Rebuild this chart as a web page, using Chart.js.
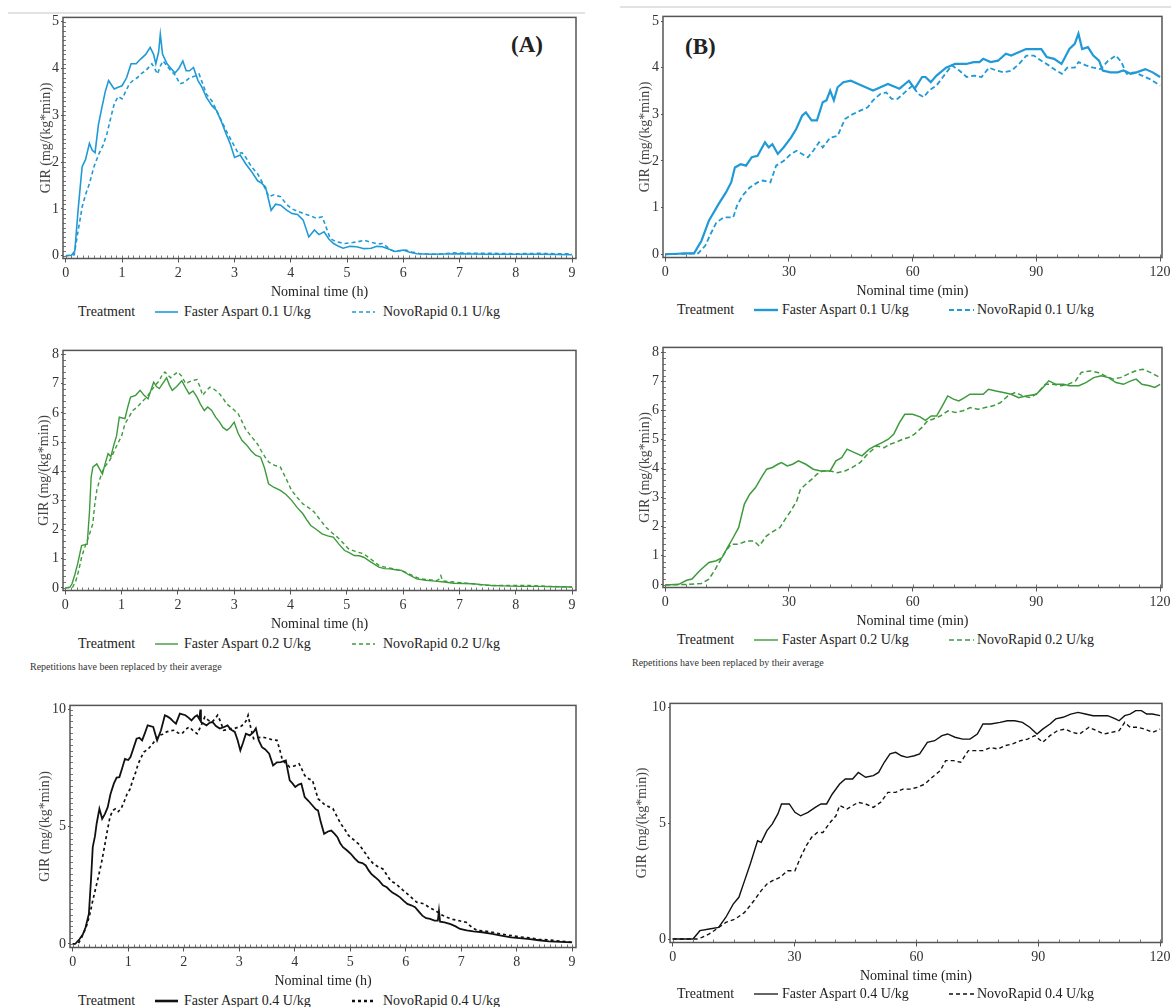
<!DOCTYPE html>
<html lang="en">
<head>
<meta charset="UTF-8">
<title>GIR profiles - Faster Aspart vs NovoRapid</title>
<script src="https://cdn.jsdelivr.net/npm/chart.js"></script>
<style>
  body { margin: 0; background: #fff; }
  #page { position: relative; width: 1171px; height: 1007px; overflow: hidden;
          font-family: "Liberation Serif", "Times New Roman", serif; color: #222; }
  canvas { position: absolute; }
  .txt { position: absolute; white-space: nowrap; font-size: 14px; height: 20px; line-height: 20px; }
  .rule { position: absolute; height: 2px; background: #e2e2e2; }
  .tag { position: absolute; font-weight: bold; font-size: 23px; line-height: 28px; height: 28px; }
  .note { position: absolute; font-size: 10px; line-height: 12px; white-space: nowrap; color: #333; }
  svg { position: absolute; overflow: visible; }
</style>
</head>
<body>
<div id="page">
  <div class="rule" style="left:8px;top:12px;width:577px"></div>
  <div class="rule" style="left:620px;top:6px;width:551px"></div>
  <div class="tag" style="left:511px;top:31px">(A)</div>
  <div class="tag" style="left:685px;top:33px">(B)</div>
  <div class="note" style="left:30px;top:661px">Repetitions have been replaced by their average</div>
  <div class="note" style="left:632px;top:657px">Repetitions have been replaced by their average</div>
</div>

<script>
// tick labels
const hourTicks = [0, 1, 2, 3, 4, 5, 6, 7, 8, 9];
const minTicks = [0, 30, 60, 90, 120];
const gir5Ticks = [0, 1, 2, 3, 4, 5];
const gir8Ticks = [0, 1, 2, 3, 4, 5, 6, 7, 8];
const gir10Ticks = [0, 5, 10];

// series: [nominal time, GIR]
// (A) 0.1 U/kg, hours
const a1Faster = [[0,0],[0.1,0.01],[0.16,0.1],[0.22,1.0],[0.29,1.9],[0.35,2.05],[0.42,2.4],[0.47,2.25],[0.52,2.2],[0.58,2.8],[0.63,3.1],[0.7,3.5],[0.76,3.74],[0.81,3.65],[0.86,3.56],[0.93,3.6],[1.0,3.63],[1.08,3.8],[1.16,4.1],[1.25,4.1],[1.33,4.2],[1.42,4.3],[1.5,4.45],[1.56,4.3],[1.6,4.1],[1.65,4.35],[1.68,4.73],[1.72,4.3],[1.8,4.1],[1.87,4.0],[1.94,3.9],[2.01,4.0],[2.08,4.16],[2.14,3.95],[2.2,3.95],[2.27,4.02],[2.35,3.74],[2.42,3.6],[2.5,3.38],[2.6,3.2],[2.68,3.1],[2.77,2.85],[2.85,2.6],[2.92,2.4],[3.0,2.1],[3.1,2.15],[3.2,1.96],[3.3,1.8],[3.41,1.6],[3.48,1.55],[3.55,1.47],[3.65,0.97],[3.73,1.1],[3.82,1.08],[3.92,0.98],[4.02,0.9],[4.12,0.88],[4.22,0.76],[4.32,0.4],[4.42,0.55],[4.5,0.45],[4.59,0.51],[4.68,0.35],[4.76,0.26],[4.85,0.2],[4.93,0.16],[5.05,0.2],[5.17,0.19],[5.3,0.15],[5.43,0.16],[5.53,0.2],[5.63,0.19],[5.75,0.14],[5.84,0.09],[5.92,0.1],[6.0,0.12],[6.1,0.08],[6.24,0.04],[6.5,0.03],[7.0,0.04],[7.5,0.03],[8.0,0.03],[8.5,0.03],[9.0,0.02]];
const a1Novo = [[0,0],[0.15,0.02],[0.2,0.4],[0.25,0.75],[0.29,1.04],[0.35,1.3],[0.42,1.54],[0.5,1.9],[0.59,2.18],[0.66,2.35],[0.73,2.6],[0.8,2.95],[0.86,3.24],[0.93,3.4],[1.0,3.35],[1.06,3.5],[1.13,3.67],[1.2,3.75],[1.27,3.8],[1.33,3.88],[1.42,3.95],[1.53,4.1],[1.58,4.0],[1.63,3.88],[1.68,4.05],[1.73,4.16],[1.8,4.05],[1.87,3.95],[1.95,3.85],[2.03,3.67],[2.1,3.7],[2.2,3.8],[2.3,3.84],[2.37,3.88],[2.44,3.65],[2.5,3.45],[2.6,3.3],[2.68,3.1],[2.78,2.85],[2.88,2.6],[2.97,2.4],[3.07,2.18],[3.13,2.2],[3.2,2.1],[3.3,1.9],[3.41,1.75],[3.5,1.55],[3.61,1.26],[3.7,1.3],[3.82,1.26],[3.92,1.1],[4.02,1.0],[4.12,0.95],[4.22,0.9],[4.35,0.85],[4.45,0.8],[4.56,0.83],[4.63,0.6],[4.7,0.37],[4.8,0.3],[4.96,0.26],[5.1,0.28],[5.2,0.3],[5.3,0.33],[5.45,0.28],[5.55,0.25],[5.63,0.26],[5.7,0.2],[5.78,0.12],[5.84,0.1],[5.95,0.11],[6.04,0.12],[6.15,0.08],[6.3,0.04],[6.6,0.03],[6.9,0.06],[7.2,0.05],[7.6,0.05],[8.0,0.04],[8.4,0.05],[8.8,0.04],[9.0,0.04]];

// (A) 0.2 U/kg
const a2Faster = [[0,0],[0.08,0.02],[0.12,0.14],[0.17,0.45],[0.22,0.82],[0.29,1.45],[0.35,1.48],[0.39,1.5],[0.43,2.6],[0.46,3.8],[0.49,4.14],[0.56,4.25],[0.63,4.0],[0.66,3.9],[0.7,4.2],[0.76,4.6],[0.81,4.5],[0.86,4.88],[0.91,5.2],[0.96,5.85],[1.06,5.8],[1.11,6.2],[1.16,6.54],[1.25,6.6],[1.33,6.77],[1.4,6.6],[1.47,6.48],[1.57,7.05],[1.62,6.9],[1.67,6.83],[1.73,7.0],[1.8,7.2],[1.85,6.95],[1.9,6.77],[1.98,6.9],[2.07,7.1],[2.14,6.85],[2.2,6.65],[2.27,6.75],[2.34,6.54],[2.4,6.3],[2.47,6.08],[2.53,6.2],[2.6,6.08],[2.67,5.85],[2.74,5.68],[2.8,5.5],[2.87,5.4],[2.93,5.5],[3.0,5.68],[3.07,5.3],[3.14,5.05],[3.22,4.9],[3.3,4.7],[3.38,4.55],[3.47,4.48],[3.54,4.1],[3.61,3.57],[3.7,3.45],[3.82,3.34],[3.92,3.2],[4.02,3.0],[4.12,2.75],[4.22,2.54],[4.3,2.3],[4.36,2.14],[4.46,2.0],[4.56,1.85],[4.66,1.78],[4.76,1.74],[4.86,1.5],[4.96,1.28],[5.05,1.2],[5.13,1.11],[5.22,1.1],[5.3,1.05],[5.43,0.88],[5.57,0.71],[5.67,0.66],[5.77,0.65],[5.87,0.62],[5.97,0.6],[6.1,0.45],[6.24,0.31],[6.4,0.26],[6.57,0.23],[6.73,0.2],[6.9,0.16],[7.07,0.15],[7.24,0.14],[7.4,0.11],[7.57,0.08],[7.8,0.07],[8.1,0.05],[8.4,0.05],[8.7,0.04],[9.0,0.03]];
const a2Novo = [[0,0],[0.13,0.02],[0.19,0.25],[0.24,0.6],[0.29,1.05],[0.34,1.35],[0.39,1.62],[0.44,1.9],[0.49,2.2],[0.52,2.8],[0.56,3.34],[0.61,3.7],[0.66,4.0],[0.72,4.2],[0.79,4.37],[0.86,4.65],[0.93,4.94],[1.0,5.2],[1.06,5.62],[1.13,5.85],[1.2,6.08],[1.28,6.2],[1.36,6.37],[1.45,6.55],[1.53,6.77],[1.6,6.95],[1.67,7.1],[1.72,7.3],[1.77,7.4],[1.82,7.3],[1.87,7.2],[1.93,7.3],[2.0,7.4],[2.07,7.25],[2.14,7.0],[2.19,7.05],[2.24,7.1],[2.34,7.14],[2.39,6.9],[2.44,6.6],[2.5,6.75],[2.57,6.88],[2.65,6.8],[2.74,6.65],[2.8,6.5],[2.87,6.3],[2.97,6.15],[3.07,5.97],[3.14,5.7],[3.2,5.45],[3.3,5.2],[3.41,4.94],[3.48,4.7],[3.55,4.48],[3.62,4.3],[3.72,4.2],[3.82,4.14],[3.92,3.75],[4.02,3.34],[4.12,3.1],[4.22,2.88],[4.32,2.75],[4.42,2.6],[4.52,2.35],[4.63,2.08],[4.73,1.9],[4.83,1.74],[4.93,1.55],[5.03,1.34],[5.15,1.25],[5.3,1.17],[5.43,0.98],[5.57,0.77],[5.7,0.7],[5.84,0.65],[5.94,0.6],[6.04,0.54],[6.17,0.42],[6.3,0.31],[6.45,0.28],[6.6,0.25],[6.64,0.3],[6.67,0.42],[6.7,0.24],[6.8,0.22],[6.9,0.2],[7.07,0.17],[7.24,0.14],[7.4,0.1],[7.57,0.08],[7.9,0.08],[8.25,0.08],[8.6,0.05],[9.0,0.03]];

// (A) 0.4 U/kg
const a3Faster = [[0,0],[0.05,0.02],[0.12,0.2],[0.18,0.4],[0.23,0.7],[0.29,1.28],[0.33,2.8],[0.36,4.13],[0.4,4.6],[0.43,5.13],[0.48,5.77],[0.53,5.34],[0.58,5.55],[0.63,5.84],[0.68,6.4],[0.74,6.84],[0.79,7.1],[0.84,7.12],[0.89,7.5],[0.94,7.9],[1.0,7.85],[1.04,7.98],[1.1,8.4],[1.15,8.76],[1.2,8.8],[1.25,8.69],[1.3,9.0],[1.35,9.33],[1.45,9.26],[1.52,8.69],[1.59,9.12],[1.66,9.76],[1.71,9.7],[1.76,9.62],[1.81,9.5],[1.86,9.4],[1.93,9.83],[2.03,9.76],[2.09,9.65],[2.14,9.54],[2.2,9.7],[2.24,9.76],[2.28,9.6],[2.3,10.0],[2.31,9.47],[2.36,9.4],[2.41,9.33],[2.47,9.45],[2.52,9.47],[2.58,9.3],[2.65,9.19],[2.72,9.25],[2.79,9.33],[2.85,9.15],[2.92,9.05],[2.97,8.7],[3.02,8.26],[3.07,8.6],[3.12,8.97],[3.19,8.9],[3.26,9.05],[3.3,9.2],[3.35,8.7],[3.41,8.4],[3.47,8.3],[3.54,8.12],[3.61,7.62],[3.68,7.75],[3.75,7.76],[3.84,7.83],[3.91,6.98],[3.96,6.85],[4.01,6.7],[4.07,6.8],[4.12,6.84],[4.18,6.27],[4.25,6.1],[4.32,5.91],[4.38,5.75],[4.42,5.7],[4.47,5.2],[4.53,4.7],[4.6,4.8],[4.66,4.84],[4.72,4.7],[4.77,4.56],[4.82,4.3],[4.87,4.13],[4.94,4.0],[5.01,3.85],[5.08,3.65],[5.15,3.49],[5.22,3.45],[5.28,3.35],[5.33,3.15],[5.38,2.99],[5.45,2.85],[5.52,2.7],[5.59,2.5],[5.66,2.42],[5.71,2.3],[5.76,2.2],[5.83,2.1],[5.9,1.99],[5.96,1.85],[6.03,1.71],[6.1,1.65],[6.17,1.57],[6.23,1.4],[6.3,1.21],[6.37,1.1],[6.44,1.07],[6.52,1.0],[6.58,1.0],[6.6,1.42],[6.62,0.95],[6.7,0.92],[6.81,0.85],[6.9,0.75],[6.98,0.64],[7.1,0.58],[7.22,0.54],[7.38,0.5],[7.56,0.43],[7.72,0.36],[7.9,0.28],[8.05,0.25],[8.24,0.21],[8.4,0.16],[8.58,0.11],[8.8,0.09],[9.0,0.07]];
const a3Novo = [[0,0],[0.1,0.02],[0.16,0.28],[0.21,0.55],[0.26,0.85],[0.31,1.3],[0.36,1.85],[0.41,2.35],[0.46,2.85],[0.52,3.5],[0.57,4.13],[0.62,4.8],[0.67,5.41],[0.72,5.7],[0.77,5.77],[0.82,5.65],[0.87,5.77],[0.93,6.1],[0.98,6.41],[1.03,6.6],[1.08,6.98],[1.13,7.3],[1.18,7.69],[1.23,7.95],[1.28,8.19],[1.35,8.3],[1.42,8.48],[1.49,8.7],[1.56,8.9],[1.62,8.95],[1.69,9.05],[1.76,9.1],[1.83,9.12],[1.9,9.0],[1.97,8.97],[2.03,9.15],[2.1,9.26],[2.17,9.1],[2.24,8.97],[2.31,9.3],[2.38,9.69],[2.44,9.55],[2.51,9.47],[2.56,9.6],[2.61,9.76],[2.66,9.5],[2.72,9.12],[2.79,9.15],[2.85,9.19],[2.92,9.2],[2.99,9.26],[3.04,9.3],[3.09,9.4],[3.13,9.55],[3.16,9.76],[3.21,9.2],[3.26,8.76],[3.33,8.8],[3.41,8.83],[3.47,8.8],[3.54,8.76],[3.61,8.7],[3.68,8.69],[3.73,8.3],[3.78,7.83],[3.84,7.7],[3.91,7.55],[4.0,7.6],[4.08,7.69],[4.13,7.45],[4.18,7.19],[4.25,7.05],[4.32,6.98],[4.37,6.6],[4.42,6.2],[4.49,6.05],[4.56,5.91],[4.62,5.85],[4.69,5.77],[4.76,5.45],[4.83,5.13],[4.9,4.9],[4.97,4.63],[5.06,4.45],[5.15,4.27],[5.22,4.05],[5.28,3.85],[5.35,3.6],[5.42,3.42],[5.5,3.3],[5.59,3.2],[5.66,2.95],[5.73,2.7],[5.8,2.6],[5.86,2.49],[5.95,2.3],[6.03,2.14],[6.12,1.95],[6.2,1.78],[6.27,1.75],[6.33,1.71],[6.43,1.55],[6.54,1.42],[6.64,1.25],[6.74,1.14],[6.85,1.05],[6.95,1.0],[7.03,0.95],[7.09,0.93],[7.2,0.7],[7.3,0.57],[7.43,0.55],[7.56,0.5],[7.73,0.42],[7.9,0.36],[8.07,0.3],[8.24,0.26],[8.4,0.2],[8.58,0.17],[8.8,0.12],[9.0,0.07]];

// (B) 0.1 U/kg, minutes
const b1Faster = [[0,0],[3,0.01],[5,0.02],[7,0.02],[8.8,0.29],[10.6,0.72],[12.9,1.07],[14.7,1.32],[16,1.54],[16.9,1.86],[18.3,1.93],[19.6,1.9],[21,2.08],[22.4,2.11],[24.2,2.4],[25.1,2.29],[26,2.36],[27.3,2.15],[28.7,2.29],[30.5,2.5],[31.8,2.69],[33.2,2.97],[34.1,3.04],[35.5,2.87],[36.8,2.87],[38.2,3.26],[39.1,3.3],[40,3.51],[40.9,3.3],[41.8,3.58],[43.2,3.69],[45,3.72],[46.8,3.65],[48.6,3.58],[50.4,3.51],[52.2,3.58],[54,3.65],[56.8,3.55],[59.1,3.72],[60.5,3.55],[62.3,3.8],[63.1,3.8],[64.4,3.69],[65.8,3.83],[68.1,4.0],[70.3,4.08],[73,4.08],[74.8,4.12],[76.2,4.12],[77.1,4.19],[78.9,4.12],[80.7,4.15],[82.6,4.3],[83.9,4.26],[85.7,4.33],[87.5,4.4],[89.4,4.4],[91.2,4.4],[92.5,4.23],[94.3,4.19],[96.1,4.08],[98,4.4],[99.3,4.51],[100.2,4.73],[101.1,4.4],[102.5,4.44],[103.8,4.26],[105.2,4.15],[106.1,3.94],[107.9,3.9],[109.7,3.9],[111.1,3.94],[112.9,3.87],[114.3,3.9],[116.4,3.97],[118.2,3.9],[120,3.8]];
const b1Novo = [[0,0],[4,0.01],[8,0.02],[9.7,0.18],[11,0.43],[12.4,0.68],[14.2,0.79],[16.5,0.79],[17.4,1.04],[18.7,1.25],[20.5,1.43],[22.4,1.54],[23.7,1.58],[25.5,1.54],[26.9,1.9],[28.7,2.0],[30.5,2.15],[31.9,2.22],[33.2,2.15],[34.6,2.08],[35.9,2.22],[37.3,2.4],[38.2,2.29],[40,2.5],[41.8,2.54],[43.6,2.9],[45.4,3.0],[47.3,3.08],[49.1,3.15],[50.4,3.3],[52.2,3.44],[53.6,3.47],[54.9,3.33],[56.3,3.33],[58.1,3.47],[60,3.62],[61.3,3.44],[62.7,3.37],[64,3.51],[65.8,3.62],[67.6,3.83],[69.5,4.05],[71.3,3.94],[73.1,3.8],[74.9,3.83],[76.7,3.8],[78.5,4.0],[80.3,3.94],[82.2,3.9],[84,3.94],[85.8,4.08],[87.6,4.26],[89.4,4.26],[91.2,4.15],[93,4.05],[94.8,3.94],[96.2,3.87],[97.5,4.0],[99.3,4.0],[100.2,4.12],[102,4.05],[103.8,4.0],[105.6,3.97],[107.4,4.15],[109.3,4.26],[110.6,4.12],[111.9,3.87],[113.8,3.9],[115.6,3.83],[117.4,3.76],[120,3.62]];

// (B) 0.2 U/kg
const b2Faster = [[0,0],[3.3,0.02],[5.2,0.16],[6.5,0.2],[8.3,0.48],[10.6,0.77],[12.4,0.83],[13.8,0.94],[15.1,1.28],[16.5,1.63],[17.8,1.97],[19.2,2.78],[20.5,3.12],[21.9,3.35],[23.3,3.69],[24.6,3.98],[26,4.04],[27.3,4.15],[28.2,4.21],[29.6,4.09],[30.9,4.15],[32.3,4.27],[34.1,4.15],[35.9,3.98],[37.7,3.92],[40,3.92],[41.4,4.27],[42.8,4.38],[44.1,4.67],[45.9,4.55],[47.7,4.44],[49.5,4.67],[50.9,4.78],[52.7,4.9],[54.1,5.01],[55.4,5.18],[56.8,5.58],[58.1,5.87],[60,5.87],[61.8,5.78],[63.1,5.66],[64.5,5.81],[65.8,5.81],[67.2,6.16],[68.5,6.5],[69.9,6.39],[71.2,6.33],[72.6,6.44],[73.9,6.56],[75.7,6.56],[77.1,6.56],[78.4,6.73],[80.2,6.67],[82,6.62],[83.9,6.56],[85.7,6.44],[87.5,6.5],[90,6.56],[91.6,6.79],[93,7.02],[94.8,6.9],[96.6,6.9],[98,6.85],[100.3,6.85],[102,6.96],[103.9,7.13],[105.7,7.19],[107.5,7.13],[109.3,6.96],[111.1,6.9],[112.9,7.02],[114.2,7.08],[115.6,6.9],[117.4,6.85],[118.7,6.79],[120,6.9]];
const b2Novo = [[0,0],[4,0.01],[6,0.02],[8.8,0.05],[10.6,0.2],[11.9,0.48],[13.3,0.83],[14.7,1.17],[16,1.4],[17.8,1.4],[19.7,1.51],[21.5,1.51],[22.8,1.34],[24.6,1.69],[26.4,1.86],[27.8,1.97],[29.1,2.26],[30.5,2.55],[31.9,2.89],[32.8,3.29],[34.1,3.46],[35.5,3.63],[36.8,3.81],[38.2,3.92],[40,3.92],[41.8,3.86],[43.6,3.92],[45.4,4.04],[47.3,4.21],[49.1,4.5],[51.3,4.78],[53.1,4.72],[54.5,4.84],[55.8,4.9],[57.6,5.01],[59,5.07],[60.4,5.18],[62.2,5.41],[63.6,5.64],[64.9,5.7],[66.7,5.81],[68.6,5.99],[70.4,5.93],[72.2,5.99],[74,6.1],[75.8,6.04],[77.6,6.1],[79.5,6.16],[81.3,6.27],[83.1,6.5],[84.9,6.62],[86.7,6.5],[88.6,6.44],[90.4,6.62],[92.2,6.9],[94,6.9],[95.9,6.85],[97.7,6.9],[99.5,7.02],[100.9,7.31],[103.1,7.36],[104.9,7.31],[106.7,7.19],[108.6,7.08],[110.4,7.13],[112.2,7.25],[114,7.36],[115.8,7.42],[117.6,7.31],[120,7.13]];

// (B) 0.4 U/kg
const b3Faster = [[0,0],[5,0],[6.7,0.36],[9,0.43],[11.3,0.5],[13.1,0.94],[14.9,1.51],[16.3,1.8],[17.7,2.52],[19.1,3.24],[20.9,4.24],[21.8,4.17],[23.2,4.68],[24.5,4.96],[25.9,5.4],[26.8,5.83],[28.7,5.83],[30.1,5.47],[31.5,5.32],[33.3,5.47],[35.1,5.68],[36.5,5.83],[37.9,5.83],[39.3,6.26],[41.1,6.69],[42.5,6.91],[44.3,6.91],[45.7,7.19],[47.5,6.98],[49.4,7.05],[50.7,7.19],[52.1,7.63],[53.5,7.99],[54.9,8.06],[56.3,7.91],[57.7,7.84],[59.5,7.91],[60.8,7.99],[62.7,8.49],[64.5,8.56],[66.3,8.78],[67.7,8.85],[69.5,8.71],[71.4,8.63],[73.2,8.63],[75,8.85],[76.4,9.28],[78.3,9.28],[80.6,9.35],[82.4,9.42],[84.2,9.42],[86.1,9.35],[87.9,9.14],[89.7,8.85],[91.1,9.06],[92.9,9.28],[94.3,9.5],[96.1,9.57],[98,9.71],[99.8,9.78],[101.6,9.71],[103.5,9.64],[105.3,9.64],[107.1,9.64],[109,9.5],[109.9,9.42],[111.3,9.64],[112.6,9.71],[114,9.86],[115.4,9.86],[116.7,9.71],[118.1,9.71],[120,9.64]];
const b3Novo = [[0,0],[6,0],[7.2,0.07],[9,0.22],[10.8,0.43],[13.1,0.72],[15.4,0.86],[17.7,1.15],[20,1.65],[21.8,2.09],[23.2,2.37],[24.6,2.52],[26.4,2.66],[28.3,2.95],[30.1,2.95],[31.5,3.53],[32.9,4.03],[34.2,4.39],[35.6,4.6],[37,4.6],[38.8,5.04],[40.2,5.32],[41.1,5.76],[42.9,5.61],[44.3,5.76],[45.7,5.9],[47.5,5.83],[49.4,5.68],[51.2,5.9],[53,6.33],[54.9,6.33],[56.7,6.47],[58.5,6.47],[60.3,6.55],[62.1,6.69],[63.9,6.98],[65.9,7.27],[67.2,7.7],[69.1,7.7],[70.9,7.63],[72.8,8.13],[74.6,8.13],[76.4,8.13],[78.3,8.27],[80.1,8.2],[81.9,8.35],[83.7,8.42],[85.6,8.56],[87.4,8.63],[89.2,8.78],[91.1,8.49],[92.9,8.78],[94.7,8.99],[96.6,9.06],[98.4,8.92],[100.2,8.85],[102.5,9.14],[104.4,8.99],[106.2,8.85],[108,8.92],[109.9,8.99],[111.3,9.35],[112.6,9.14],[114.5,9.14],[116.3,9.06],[118.2,8.92],[120,9.06]];

const BLUE = '#1f9ad6';
const GREEN = '#3d9a3d';
const BLACK = '#111';
const Y_TITLE = 'GIR (mg/(kg*min))';

Chart.defaults.font.family = '"Liberation Serif", "Times New Roman", serif';
Chart.defaults.font.size = 14;
Chart.defaults.color = '#333';

// legend positions (page px)
const legA = { treat: 78, line1: [155, 178], lab1: 184, line2: [352, 375], lab2: 383 };
const legB = { treat: 677, line1: [754, 778], lab1: 782, line2: [949, 974], lab2: 977 };

const PAD_TOP = 10, PAD_RIGHT = 14, X_H = 42.5;

const panels = [
  { area: [63, 17, 576, 258], yW: 25, xr: [-0.05, 9.07], yr: [-0.06, 5.09], xTicks: hourTicks, yTicks: gir5Ticks,
    xTitle: 'Nominal time (h)', xMinor: 0.1, yMinor: 0.1, color: BLUE, lw: [1.6, 1.6], dash: [4, 3],
    series: [a1Faster, a1Novo], labels: ['Faster Aspart 0.1 U/kg', 'NovoRapid 0.1 U/kg'],
    leg: legA, legY: 311.5, legLw: [1.6, 1.6] },
  { area: [663, 16, 1162, 257], yW: 26, xr: [-0.53, 120.46], yr: [-0.07, 5.1], xTicks: minTicks, yTicks: gir5Ticks,
    xTitle: 'Nominal time (min)', xMinor: 5, yMinor: 0, color: BLUE, lw: [2.2, 1.8], dash: [5, 3],
    series: [b1Faster, b1Novo], labels: ['Faster Aspart 0.1 U/kg', 'NovoRapid 0.1 U/kg'],
    leg: legB, legY: 309.5, legLw: [2.4, 2.0] },
  { area: [63, 350, 576, 590], yW: 27, xr: [-0.04, 9.07], yr: [-0.09, 8.14], xTicks: hourTicks, yTicks: gir8Ticks,
    xTitle: 'Nominal time (h)', xMinor: 0.1, yMinor: 0.2, color: GREEN, lw: [1.4, 1.4], dash: [4, 3],
    series: [a2Faster, a2Novo], labels: ['Faster Aspart 0.2 U/kg', 'NovoRapid 0.2 U/kg'],
    leg: legA, legY: 643.5, legLw: [1.4, 1.4] },
  { area: [663, 347, 1162, 587], yW: 26, xr: [-0.53, 120.46], yr: [-0.09, 8.17], xTicks: minTicks, yTicks: gir8Ticks,
    xTitle: 'Nominal time (min)', xMinor: 5, yMinor: 0.2, color: GREEN, lw: [1.5, 1.5], dash: [5, 3],
    series: [b2Faster, b2Novo], labels: ['Faster Aspart 0.2 U/kg', 'NovoRapid 0.2 U/kg'],
    leg: legB, legY: 640, legLw: [1.4, 1.4] },
  { area: [70, 705, 576, 947], yW: 33, xr: [-0.05, 9.07], yr: [-0.15, 10.18], xTicks: hourTicks, yTicks: gir10Ticks,
    xTitle: 'Nominal time (h)', xMinor: 0.1, yMinor: 0.25, color: BLACK, lw: [1.8, 1.7], dash: [3, 3],
    series: [a3Faster, a3Novo], labels: ['Faster Aspart 0.4 U/kg', 'NovoRapid 0.4 U/kg'],
    leg: legA, legY: 1000.5, legLw: [2.6, 2.4] },
  { area: [670, 703, 1162, 942], yW: 36, xr: [-0.66, 120.47], yr: [-0.15, 10.17], xTicks: minTicks, yTicks: gir10Ticks,
    xTitle: 'Nominal time (min)', xMinor: 5, yMinor: 0, color: BLACK, lw: [1.4, 1.4], dash: [4, 3],
    series: [b3Faster, b3Novo], labels: ['Faster Aspart 0.4 U/kg', 'NovoRapid 0.4 U/kg'],
    leg: legB, legY: 993.5, legLw: [1.3, 1.3] }
];

// box frame + small minor tick marks along the axes
const framePlugin = {
  id: 'frame',
  afterDatasetsDraw(chart, args, opts) {
    const { ctx, chartArea: a, scales } = chart;
    ctx.save();
    ctx.strokeStyle = '#777';
    ctx.lineWidth = 1;
    if (opts.xMinor) {
      const t = scales.x.ticks;
      for (let v = t[0].value; v <= t[t.length - 1].value + 1e-9; v += opts.xMinor) {
        const px = Math.round(scales.x.getPixelForValue(v)) + 0.5;
        ctx.beginPath(); ctx.moveTo(px, a.bottom); ctx.lineTo(px, a.bottom - 3); ctx.stroke();
      }
    }
    if (opts.yMinor) {
      const t = scales.y.ticks;
      for (let v = t[0].value; v <= t[t.length - 1].value + 1e-9; v += opts.yMinor) {
        const py = Math.round(scales.y.getPixelForValue(v)) + 0.5;
        ctx.beginPath(); ctx.moveTo(a.left, py); ctx.lineTo(a.left + 3, py); ctx.stroke();
      }
    }
    ctx.strokeStyle = '#555';
    ctx.lineWidth = 1.5;
    ctx.strokeRect(a.left, a.top, a.right - a.left, a.bottom - a.top);
    ctx.restore();
  }
};

const page = document.getElementById('page');

function addText(str, x, yc) {
  const d = document.createElement('div');
  d.className = 'txt';
  d.style.left = x + 'px';
  d.style.top = (yc - 10) + 'px';
  d.textContent = str;
  page.appendChild(d);
}

function addLine(x0, x1, yc, color, width, dash) {
  const ns = 'http://www.w3.org/2000/svg';
  const svg = document.createElementNS(ns, 'svg');
  svg.setAttribute('width', x1 - x0);
  svg.setAttribute('height', 6);
  svg.style.left = x0 + 'px';
  svg.style.top = (yc - 3) + 'px';
  const ln = document.createElementNS(ns, 'line');
  ln.setAttribute('x1', 0); ln.setAttribute('y1', 3);
  ln.setAttribute('x2', x1 - x0); ln.setAttribute('y2', 3);
  ln.setAttribute('stroke', color);
  ln.setAttribute('stroke-width', width);
  if (dash.length) ln.setAttribute('stroke-dasharray', dash.join(' '));
  svg.appendChild(ln);
  page.appendChild(svg);
}

function makePanel(p) {
  const [l, t, r, b] = p.area;
  const cv = document.createElement('canvas');
  const w = (r - l) + p.yW + PAD_RIGHT;
  const h = (b - t) + PAD_TOP + X_H;
  cv.width = Math.round(w);
  cv.height = Math.round(h);
  cv.style.left = (l - p.yW) + 'px';
  cv.style.top = (t - PAD_TOP) + 'px';
  page.appendChild(cv);

  new Chart(cv, {
    type: 'line',
    data: {
      datasets: p.series.map((s, i) => ({
        label: p.labels[i],
        data: s.map(d => ({ x: d[0], y: d[1] })),
        borderColor: p.color,
        borderWidth: p.lw[i],
        borderDash: i ? p.dash : [],
        pointRadius: 0,
        tension: 0,
        fill: false
      }))
    },
    options: {
      responsive: false,
      animation: false,
      devicePixelRatio: 1,
      layout: { padding: { top: PAD_TOP, right: PAD_RIGHT, left: 0, bottom: 0 } },
      plugins: {
        legend: { display: false },
        tooltip: { enabled: false },
        frame: { xMinor: p.xMinor, yMinor: p.yMinor }
      },
      scales: {
        x: {
          type: 'linear',
          min: p.xr[0], max: p.xr[1],
          afterBuildTicks: s => { s.ticks = p.xTicks.map(v => ({ value: v })); },
          afterFit: s => { s.height = X_H; },
          ticks: { autoSkip: false, maxRotation: 0, padding: 2, color: '#333' },
          grid: { drawOnChartArea: false, drawTicks: true, tickLength: 4, tickColor: '#555' },
          border: { display: false },
          title: { display: true, text: p.xTitle, color: '#222', padding: 0 }
        },
        y: {
          min: p.yr[0], max: p.yr[1],
          afterBuildTicks: s => { s.ticks = p.yTicks.map(v => ({ value: v })); },
          afterFit: s => { s.width = p.yW; },
          ticks: { autoSkip: false, padding: 2, color: '#333' },
          grid: { drawOnChartArea: false, drawTicks: true, tickLength: 2, tickColor: '#555' },
          border: { display: false },
          title: { display: true, text: Y_TITLE, color: '#444', padding: 0 }
        }
      }
    },
    plugins: [framePlugin]
  });

  // legend row under the panel
  const L = p.leg;
  addText('Treatment', L.treat, p.legY);
  addLine(L.line1[0], L.line1[1], p.legY, p.color, p.legLw[0], []);
  addText(p.labels[0], L.lab1, p.legY);
  addLine(L.line2[0], L.line2[1], p.legY, p.color, p.legLw[1], p.dash);
  addText(p.labels[1], L.lab2, p.legY);
}

panels.forEach(makePanel);
</script>
</body>
</html>
